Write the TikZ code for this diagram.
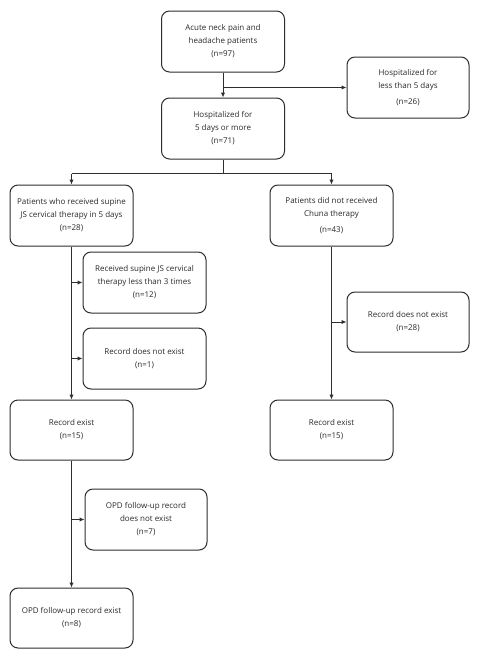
\documentclass[tikz,border=0pt]{standalone}
\usepackage{fontspec}
\setmainfont{Open Sans}
\usetikzlibrary{arrows.meta,calc}
\definecolor{ln}{HTML}{2e2e2e}
\definecolor{tx}{HTML}{2a2a2a}
\begin{document}
\begin{tikzpicture}[x=1pt,y=-1pt,
  box/.style={draw=ln,line width=1pt,rounded corners=8pt,minimum width=123pt,minimum height=61pt,
    align=center,font=\fontsize{8}{13}\selectfont,text=tx,inner sep=2pt},
  arr/.style={draw=ln,line width=1pt,-{Latex[length=5pt,width=4.5pt]}},
  ln/.style={draw=ln,line width=1pt}]
\useasboundingbox[fill=white] (0,0) rectangle (479,649);
\node[box] (a) at (223,41.5) {Acute neck pain and\\headache patients\\(n=97)};
\node[box,minimum width=122pt] (b) at (408,87.5) {Hospitalized for\\less than 5 days\\[3pt](n=26)};
\node[box] (c) at (223,128.5) {Hospitalized for\\5 days or more\\(n=71)};
\node[box] (d) at (71.5,215.5) {Patients who received supine\\JS cervical therapy in 5 days\\(n=28)};
\node[box] (e) at (331.5,215.5) {Patients did not received\\Chuna therapy\\[3pt](n=43)};
\node[box] (f) at (144.5,282.5) {Received supine JS cervical\\therapy less than 3 times\\(n=12)};
\node[box] (g) at (144.5,358.5) {Record does not exist\\(n=1)};
\node[box,minimum width=122pt,minimum height=60pt] (h) at (408,322) {Record does not exist\\(n=28)};
\node[box,minimum height=60pt] (i) at (71.5,430) {Record exist\\(n=15)};
\node[box,minimum height=60pt] (j) at (331.5,430) {Record exist\\(n=15)};
\node[box,minimum width=122pt] (k) at (146,519.5) {OPD follow-up record\\does not exist\\(n=7)};
\node[box,minimum height=60pt] (l) at (71.5,618) {OPD follow-up record exist\\(n=8)};
% top
\draw[arr] (a.south) -- (c.north);
\coordinate (ab) at ($(a.south)!0.6!(c.north)$);
\draw[arr] (ab) -- (ab -| b.west);
% split
\coordinate (cs) at ($(c.south)+(0,14)$);
\draw[ln] (c.south) -- (cs);
\draw[ln] (cs -| d.north) -- (cs -| e.north);
\draw[arr] (cs -| d.north) -- (d.north);
\draw[arr] (cs -| e.north) -- (e.north);
% left column
\draw[arr] (d.south) -- (i.north);
\draw[arr] (d.south |- f.west) -- (f.west);
\draw[arr] (d.south |- g.west) -- (g.west);
% right column
\draw[arr] (e.south) -- (j.north);
\draw[arr] (e.south |- h.west) -- (h.west);
% bottom
\draw[arr] (i.south) -- (l.north);
\draw[arr] (i.south |- k.west) -- (k.west);
\end{tikzpicture}
\end{document}
